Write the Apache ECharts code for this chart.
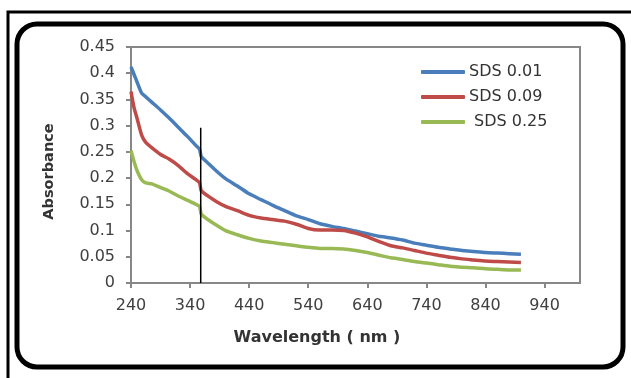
<!DOCTYPE html>
<html>
<head>
<meta charset="utf-8">
<script src="https://cdn.jsdelivr.net/npm/echarts@6/dist/echarts.min.js"></script>
<style>html,body{margin:0;padding:0;background:#fff;}#c{width:631px;height:378px;}</style>
</head>
<body>
<div id="c"></div>
<script>
const wavelengths = [240,245,250,258,265,275,290,305,320,335,350,356,359,370,385,400,420,440,460,480,500,520,540,560,580,600,620,640,660,680,700,720,740,760,780,800,820,840,860,880,900];
const sds001 = [0.412,0.398,0.384,0.362,0.355,0.345,0.330,0.314,0.297,0.280,0.262,0.255,0.241,0.229,0.213,0.199,0.185,0.170,0.159,0.148,0.138,0.128,0.121,0.113,0.108,0.104,0.099,0.094,0.089,0.086,0.082,0.076,0.072,0.068,0.065,0.062,0.060,0.058,0.057,0.056,0.055];
const sds009 = [0.365,0.335,0.315,0.282,0.268,0.258,0.245,0.236,0.224,0.209,0.197,0.191,0.176,0.166,0.155,0.146,0.138,0.129,0.124,0.121,0.118,0.112,0.104,0.101,0.101,0.100,0.095,0.088,0.079,0.071,0.067,0.062,0.057,0.053,0.049,0.046,0.044,0.042,0.041,0.040,0.039];
const sds025 = [0.252,0.232,0.215,0.197,0.191,0.189,0.182,0.175,0.166,0.158,0.150,0.146,0.131,0.121,0.110,0.100,0.092,0.085,0.080,0.077,0.074,0.071,0.068,0.066,0.066,0.065,0.062,0.058,0.053,0.048,0.045,0.041,0.038,0.035,0.032,0.030,0.029,0.027,0.026,0.025,0.025];
const seriesNames = ['SDS 0.01','SDS 0.09',' SDS 0.25'];
const xTicks = [240,340,440,540,640,740,840,940];
const yTicks = [0,0.05,0.1,0.15,0.2,0.25,0.3,0.35,0.4,0.45];
const markerLineX = [358,358];
const markerLineY = [0,0.296];

const pair = (xs, ys) => xs.map((x,i)=>[x, ys[i]]);
const font = 'DejaVu Sans';
const chart = echarts.init(document.getElementById('c'), null, {renderer:'canvas'});
const axisGray = '#878787';
chart.setOption({
  animation:false,
  backgroundColor:'#ffffff',
  textStyle:{fontFamily:font},
  graphic:[
    {type:'polyline', shape:{points:[[8,378],[8,12],[631,12]]}, style:{stroke:'#000',lineWidth:3,fill:null}, z:-1},
    {type:'rect', shape:{x:17,y:24,width:606,height:343,r:20}, style:{stroke:'#000',lineWidth:5,fill:'#fff'}, z:-1}
  ],
  grid:{left:131, top:47, right:51, bottom:95, show:true, borderColor:axisGray, borderWidth:2, backgroundColor:'transparent'},
  legend:{
    orient:'vertical', left:421, top:62, padding:0, itemWidth:44, itemHeight:4, itemGap:5,
    icon:'roundRect', data:seriesNames,
    textStyle:{fontFamily:font, fontSize:16, color:'#333', lineHeight:20, padding:[0,0,0,-1]}
  },
  xAxis:{
    type:'value', min:240, max:1000,
    name:'Wavelength ( nm )', nameLocation:'middle', nameGap:47,
    nameTextStyle:{fontFamily:font, fontWeight:'bold', fontSize:16, color:'#333', padding:[0,77,0,0]},
    axisLine:{lineStyle:{color:axisGray, width:2}},
    axisTick:{show:true, length:5, customValues:xTicks, lineStyle:{color:axisGray, width:2}},
    axisLabel:{customValues:xTicks, margin:15, fontSize:16, color:'#404040', fontFamily:font},
    splitLine:{show:false}
  },
  yAxis:{
    type:'value', min:0, max:0.45, interval:0.05,
    name:'Absorbance', nameLocation:'middle', nameGap:74, nameRotate:90,
    nameTextStyle:{fontFamily:font, fontWeight:'bold', fontSize:14.5, color:'#333', padding:[0,0,0,-13]},
    axisLine:{show:true, lineStyle:{color:axisGray, width:2}},
    axisTick:{show:true, length:5, lineStyle:{color:axisGray, width:2}},
    axisLabel:{margin:16, fontSize:16, color:'#404040', fontFamily:font, formatter:v=>String(+v.toFixed(2))},
    splitLine:{show:false}
  },
  series:[
    {name:seriesNames[0], type:'line', data:pair(wavelengths,sds001), showSymbol:false, smooth:0.2, lineStyle:{color:'#4a7ebb', width:3.5}, itemStyle:{color:'#4a7ebb'}},
    {name:seriesNames[1], type:'line', data:pair(wavelengths,sds009), showSymbol:false, smooth:0.2, lineStyle:{color:'#be4b48', width:3.5}, itemStyle:{color:'#be4b48'}},
    {name:seriesNames[2], type:'line', data:pair(wavelengths,sds025), showSymbol:false, smooth:0.2, lineStyle:{color:'#98b954', width:3.5}, itemStyle:{color:'#98b954'}},
    {name:'marker', type:'line', data:pair(markerLineX,markerLineY), showSymbol:false, lineStyle:{color:'#000', width:1.5}, z:5}
  ]
});
</script>
</body>
</html>
